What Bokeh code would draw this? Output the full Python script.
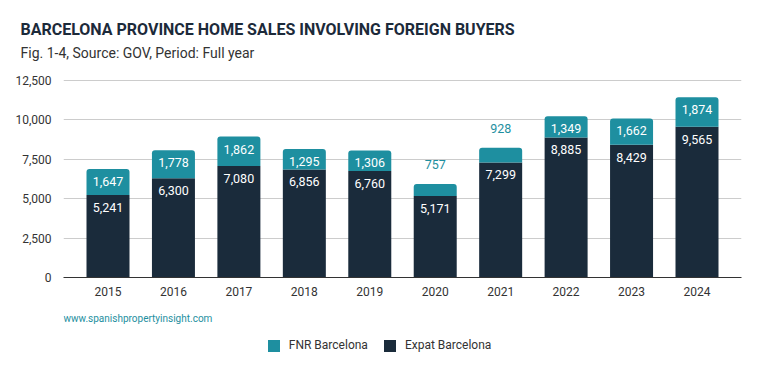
from bokeh.plotting import figure
from bokeh.models import (Range1d, FixedTicker, Title, Legend, LegendItem, Label,
                          NumeralTickFormatter)
from bokeh.layouts import column
from bokeh.embed import file_html
from bokeh.resources import INLINE
from bokeh.core.properties import value

# ---- data ----
years = ["2015", "2016", "2017", "2018", "2019", "2020", "2021", "2022", "2023", "2024"]
expat = [5241, 6300, 7080, 6856, 6760, 5171, 7299, 8885, 8429, 9565]
fnr = [1647, 1778, 1862, 1295, 1306, 757, 928, 1349, 1662, 1874]
y_ticks = [0, 2500, 5000, 7500, 10000, 12500]
series_names = ["FNR Barcelona", "Expat Barcelona"]

title_text = "BARCELONA PROVINCE HOME SALES INVOLVING FOREIGN BUYERS"
subtitle_text = "Fig. 1-4, Source: GOV, Period: Full year"
watermark_text = "www.spanishpropertyinsight.com"

TEAL = "#1e8fa0"
NAVY = "#1a2b3b"
FONT = "Roboto"
W = 743

idx = list(range(len(years)))
total = [e + f for e, f in zip(expat, fnr)]

p = figure(width=W, height=300, output_backend="svg", toolbar_location=None,
           x_range=Range1d(-0.68, len(years) - 1 + 0.68), y_range=Range1d(0, 13515),
           min_border_left=63, min_border_right=2, min_border_top=64,
           min_border_bottom=23)
p.outline_line_color = None
p.background_fill_color = "white"
p.border_fill_color = "white"

# axes
p.yaxis.ticker = FixedTicker(ticks=y_ticks)
p.yaxis.formatter = NumeralTickFormatter(format="0,0")
p.yaxis.axis_line_color = None
p.yaxis.major_tick_line_color = None
p.yaxis.minor_tick_line_color = None
p.yaxis.major_label_text_font = FONT
p.yaxis.major_label_text_font_size = "12px"
p.yaxis.major_label_text_color = "#333333"
p.yaxis.major_label_standoff = 6

p.xaxis.ticker = FixedTicker(ticks=idx)
p.xaxis.major_label_overrides = {i: y for i, y in zip(idx, years)}
p.xaxis.axis_line_color = "#333333"
p.xaxis.major_tick_line_color = None
p.xaxis.minor_tick_line_color = None
p.xaxis.major_label_text_font = FONT
p.xaxis.major_label_text_font_size = "12px"
p.xaxis.major_label_text_color = "#333333"
p.xaxis.major_label_standoff = 3

p.xgrid.grid_line_color = None
p.ygrid.grid_line_color = "#cccccc"
p.ygrid.grid_line_width = 1

# bars
r_expat = p.vbar(x=idx, bottom=0, top=expat, width=0.657,
                 fill_color=NAVY, line_color=None)
r_fnr = p.vbar(x=idx, bottom=expat, top=total, width=0.657,
               fill_color=TEAL, line_color=None, border_radius=(3, 3, 0, 0))

# value labels
fmt = lambda v: f"{v:,}"
p.text(x=idx, y=expat, text=[fmt(v) for v in expat], text_color="white",
       text_font=value(FONT), text_font_size="12.5px", text_align="center",
       text_baseline="middle", y_offset=12.5)

in_i = [i for i in idx if fnr[i] >= 1000]
out_i = [i for i in idx if fnr[i] < 1000]
p.text(x=in_i, y=[total[i] for i in in_i], text=[fmt(fnr[i]) for i in in_i],
       text_color="white", text_font=value(FONT), text_font_size="12.5px",
       text_align="center", text_baseline="middle", y_offset=12.5)
p.text(x=out_i, y=[total[i] for i in out_i], text=[fmt(fnr[i]) for i in out_i],
       text_color=TEAL, text_font=value(FONT), text_font_size="12.5px",
       text_align="center", text_baseline="middle", y_offset=-19.5)

# titles (added innermost first)
p.add_layout(Title(text=subtitle_text, text_font=FONT, text_font_size="14px",
                   text_font_style="normal", text_color="#333333",
                   align="left", offset=-43, standoff=8), "above")
p.add_layout(Title(text=title_text, text_font=FONT, text_font_size="16px",
                   text_font_style="bold", text_color="#1c2a3a",
                   align="left", offset=-43, standoff=0), "above")

# ---- bottom strip: watermark + legend ----
H2 = 55
q = figure(width=W, height=H2, output_backend="svg", toolbar_location=None,
           x_range=Range1d(0, 1), y_range=Range1d(0, H2),
           min_border_left=63, min_border_right=2, min_border_top=0,
           min_border_bottom=0, x_axis_type=None, y_axis_type=None)
q.outline_line_color = None
q.background_fill_color = "white"
q.border_fill_color = "white"
q.grid.visible = False

# zero-size proxies that only supply the legend swatches
g_fnr = q.vbar(x=[0], top=[0], width=0, fill_color=TEAL, line_color=None)
g_exp = q.vbar(x=[0], top=[0], width=0, fill_color=NAVY, line_color=None)

q.add_layout(Label(x=0, y=37, x_units="screen", text=watermark_text, text_font=FONT,
                   text_font_size="10px", text_color=TEAL,
                   text_baseline="alphabetic"))

legend = Legend(items=[LegendItem(label=series_names[0], renderers=[g_fnr]),
                       LegendItem(label=series_names[1], renderers=[g_exp])],
                location=(202.8, 2.2), orientation="horizontal",
                padding=0, margin=0, spacing=14, label_standoff=8,
                glyph_width=15, glyph_height=15, label_height=15,
                border_line_color=None, background_fill_alpha=0,
                label_text_font=FONT, label_text_font_size="12px",
                label_text_color="#333333")
q.add_layout(legend)

open("out.html", "w").write(file_html(column(p, q, spacing=0), INLINE))
